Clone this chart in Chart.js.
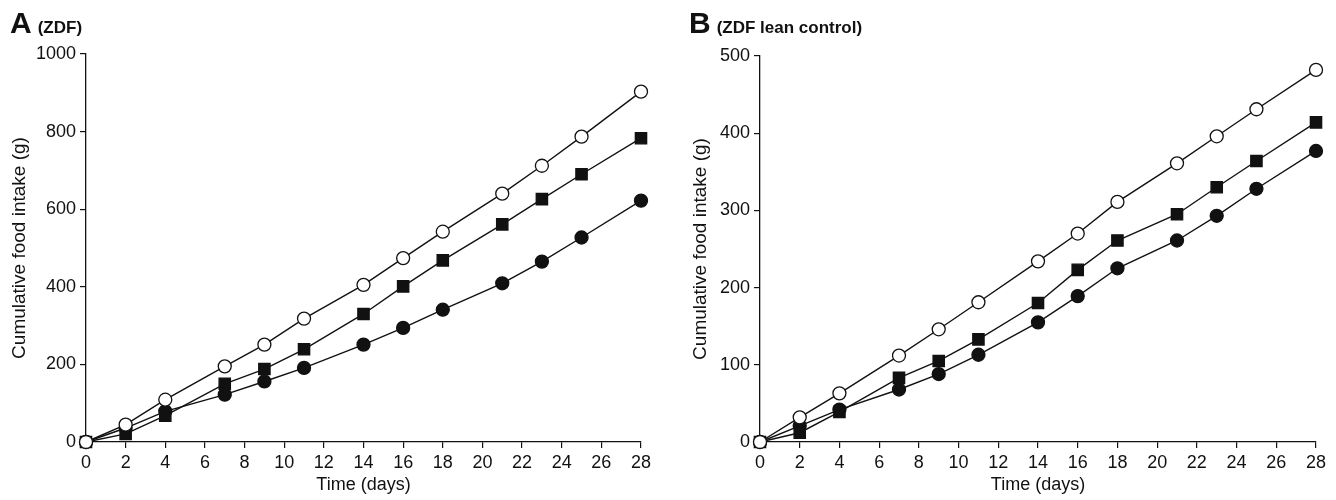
<!DOCTYPE html>
<html>
<head>
<meta charset="utf-8">
<script src="https://cdn.jsdelivr.net/npm/chart.js@4.4.0/dist/chart.umd.min.js"></script>
<style>
  body { margin: 0; background: #fff; width: 1336px; height: 500px; overflow: hidden; font-family: "Liberation Sans", Arial, sans-serif; }
  .wrap { position: absolute; top: 0; width: 668px; height: 500px; }
  .panel { position: absolute; font-weight: bold; color: #111; white-space: nowrap; }
  .panel b { font-size: 30px; }
  .panel span { font-size: 17px; margin-left: 6px; }
</style>
</head>
<body>
<div class="wrap" style="left:0"><canvas id="chartA" width="668" height="500"></canvas></div>
<div class="wrap" style="left:668px"><canvas id="chartB" width="668" height="500"></canvas></div>
<div class="panel" style="left:10px; top:6px"><b>A</b><span>(ZDF)</span></div>
<div class="panel" style="left:689px; top:6px"><b>B</b><span>(ZDF lean control)</span></div>
<script>
const days = [0, 2, 4, 7, 9, 11, 14, 16, 18, 21, 23, 25, 28];
const xTicks = [0, 2, 4, 6, 8, 10, 12, 14, 16, 18, 20, 22, 24, 26, 28];

// panel A (ZDF)
const zdfOpen   = [0, 45, 109, 195, 251, 318, 405, 474, 542, 640, 712, 787, 903];
const zdfSquare = [0, 21, 68, 150, 188, 239, 330, 401, 468, 561, 626, 690, 783];
const zdfFilled = [0, 36, 79, 122, 156, 191, 251, 294, 341, 409, 465, 527, 622];

// panel B (ZDF lean control)
const leanOpen   = [0, 32, 63, 112, 146, 181, 234, 270, 311, 361, 396, 431, 482];
const leanSquare = [0, 12, 39, 83, 105, 133, 180, 223, 261, 295, 330, 364, 414];
const leanFilled = [0, 21, 42, 68, 88, 113, 155, 189, 225, 261, 293, 328, 377];

const ink = '#111';
const fontFamily = '"Liberation Sans", Arial, sans-serif';
const tickFont = { family: fontFamily, size: 18 };
const titleFont = { family: fontFamily, size: 18 };
const yTitleFont = { family: fontFamily, size: 19 };

const toPoints = (vals) => vals.map((v, i) => ({ x: days[i], y: v }));

const makeSets = (open, square, filled) => [
  { data: toPoints(open), pointStyle: 'circle', pointRadius: 6.5, pointBackgroundColor: '#fff' },
  { data: toPoints(square), pointStyle: 'rect', pointRadius: 8, pointBackgroundColor: ink },
  { data: toPoints(filled), pointStyle: 'circle', pointRadius: 6.5, pointBackgroundColor: ink },
].map(ds => Object.assign(ds, {
  borderColor: ink, borderWidth: 1.4, pointBorderColor: ink, pointBorderWidth: 1.3,
  tension: 0, clip: false,
}));

const makeChart = (id, sets, yMax, yStep, yWidth, top, right, yTitlePad) => {
  new Chart(document.getElementById(id), {
    type: 'line',
    data: { datasets: sets },
    options: {
      responsive: false,
      animation: false,
      layout: { padding: { top: top, right: right, left: 0, bottom: 0 } },
      plugins: { legend: { display: false }, tooltip: { enabled: false } },
      scales: {
        x: {
          type: 'linear', min: 0, max: 28,
          afterBuildTicks: (s) => { s.ticks = xTicks.map(v => ({ value: v })); },
          afterFit: (s) => { s.height = 58; },
          grid: { display: true, drawOnChartArea: false, drawTicks: true, tickLength: 6, color: ink, lineWidth: 1.2 },
          border: { display: true, color: ink, width: 1.3 },
          ticks: { color: ink, font: tickFont, padding: 4, maxRotation: 0, autoSkip: false },
          title: { display: true, text: 'Time (days)', color: ink, font: titleFont, padding: { top: 0 } },
        },
        y: {
          min: 0, max: yMax,
          afterFit: (s) => { s.width = yWidth; },
          grid: { display: true, drawOnChartArea: false, drawTicks: true, tickLength: 6, color: ink, lineWidth: 1.2 },
          border: { display: true, color: ink, width: 1.3 },
          ticks: { stepSize: yStep, color: ink, font: tickFont, padding: 4, callback: (v) => String(v) },
          title: { display: true, text: 'Cumulative food intake (g)', color: ink, font: yTitleFont, padding: { top: yTitlePad, bottom: 4 } },
        },
      },
    },
  });
};

makeChart('chartA', makeSets(zdfOpen, zdfSquare, zdfFilled), 1000, 200, 86, 54, 27, 8);
makeChart('chartB', makeSets(leanOpen, leanSquare, leanFilled), 500, 100, 92, 56, 20, 21);
</script>
</body>
</html>
